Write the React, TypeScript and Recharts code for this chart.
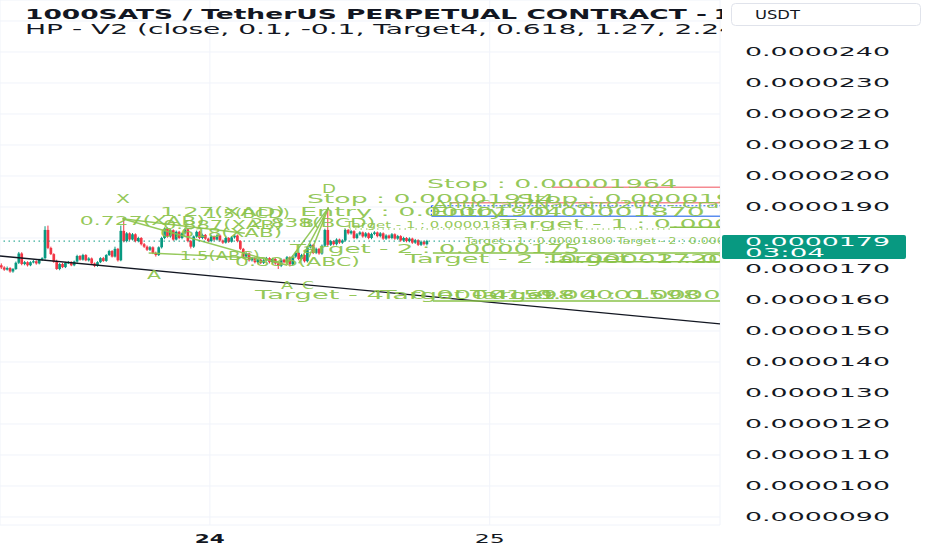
import {
  ComposedChart, Bar, XAxis, YAxis, CartesianGrid, ReferenceLine, ReferenceDot,
} from 'recharts'

// prices are in units of 1e-8 USDT (1790 = 0.0000179)
const opens = [
  1712, 1705, 1698, 1703, 1692, 1700, 1720, 1750, 1716, 1722,
  1712, 1722, 1725, 1718, 1730, 1735, 1826, 1768, 1748, 1723,
  1700, 1716, 1706, 1720, 1722, 1712, 1724, 1742, 1730, 1745,
  1728, 1734, 1718, 1710, 1722, 1735, 1726, 1745, 1758, 1740,
  1765, 1728, 1823, 1790, 1815, 1795, 1812, 1790, 1800, 1780,
  1772, 1762, 1770, 1752, 1745, 1770, 1800, 1830, 1805, 1825,
  1795, 1820, 1800, 1815, 1828, 1790, 1772, 1805, 1820, 1800,
  1810, 1798, 1790, 1805, 1795, 1808, 1792, 1785, 1800, 1788,
  1802, 1808, 1790, 1765, 1740, 1750, 1728, 1735, 1722, 1730,
  1720, 1728, 1735, 1722, 1732, 1718, 1710, 1730, 1722, 1738,
  1715, 1740, 1752, 1732, 1745, 1725, 1770, 1778, 1752, 1765,
  1750, 1775, 1826, 1778, 1790, 1780, 1795, 1785, 1792, 1826,
  1815, 1822, 1800, 1812, 1818, 1805, 1815, 1800, 1813, 1818,
  1806, 1815, 1798, 1808, 1800, 1812, 1798, 1806, 1792, 1800,
  1790, 1798, 1785, 1793, 1778, 1788, 1780,
]
const highs = [
  1718, 1709, 1708, 1706, 1703, 1724, 1755, 1754, 1726, 1725,
  1725, 1729, 1728, 1733, 1738, 1838, 1840, 1772, 1751, 1730,
  1719, 1720, 1723, 1726, 1725, 1727, 1746, 1745, 1749, 1748,
  1738, 1737, 1721, 1725, 1738, 1739, 1748, 1762, 1761, 1772,
  1768, 1840, 1866, 1819, 1818, 1816, 1815, 1804, 1803, 1784,
  1776, 1774, 1773, 1756, 1773, 1804, 1834, 1834, 1829, 1828,
  1824, 1823, 1818, 1832, 1831, 1794, 1808, 1824, 1823, 1814,
  1813, 1801, 1809, 1808, 1812, 1811, 1795, 1804, 1803, 1806,
  1812, 1811, 1793, 1768, 1754, 1753, 1739, 1738, 1734, 1733,
  1732, 1739, 1738, 1736, 1735, 1721, 1734, 1733, 1742, 1741,
  1744, 1756, 1755, 1749, 1748, 1774, 1782, 1781, 1769, 1768,
  1779, 1830, 1898, 1794, 1793, 1799, 1798, 1796, 1830, 1829,
  1826, 1825, 1816, 1822, 1821, 1819, 1818, 1817, 1822, 1821,
  1819, 1818, 1812, 1811, 1816, 1815, 1810, 1809, 1804, 1803,
  1802, 1801, 1797, 1796, 1792, 1791, 1794,
]
const lows = [
  1700, 1694, 1695, 1688, 1688, 1697, 1716, 1712, 1712, 1708,
  1709, 1718, 1714, 1715, 1726, 1730, 1764, 1745, 1720, 1697,
  1696, 1703, 1703, 1716, 1709, 1709, 1720, 1727, 1727, 1725,
  1724, 1715, 1706, 1707, 1719, 1723, 1723, 1742, 1737, 1737,
  1724, 1725, 1786, 1786, 1791, 1792, 1786, 1786, 1776, 1768,
  1758, 1758, 1748, 1740, 1742, 1766, 1796, 1801, 1801, 1791,
  1792, 1796, 1796, 1811, 1786, 1766, 1768, 1801, 1796, 1796,
  1794, 1786, 1786, 1791, 1792, 1788, 1781, 1782, 1784, 1785,
  1798, 1786, 1761, 1736, 1736, 1724, 1724, 1718, 1718, 1716,
  1716, 1724, 1718, 1718, 1714, 1700, 1706, 1718, 1718, 1708,
  1711, 1736, 1728, 1728, 1721, 1721, 1766, 1748, 1748, 1746,
  1746, 1771, 1774, 1774, 1776, 1776, 1781, 1781, 1788, 1811,
  1811, 1796, 1796, 1808, 1801, 1801, 1796, 1796, 1809, 1802,
  1802, 1794, 1794, 1796, 1796, 1794, 1794, 1788, 1788, 1786,
  1786, 1781, 1781, 1774, 1774, 1776, 1776,
]
const closes = [
  1705, 1698, 1703, 1692, 1700, 1720, 1750, 1716, 1722, 1712,
  1722, 1725, 1718, 1730, 1735, 1826, 1768, 1748, 1723, 1700,
  1716, 1706, 1720, 1722, 1712, 1724, 1742, 1730, 1745, 1728,
  1734, 1718, 1710, 1722, 1735, 1726, 1745, 1758, 1740, 1765,
  1728, 1823, 1790, 1815, 1795, 1812, 1790, 1800, 1780, 1772,
  1762, 1770, 1752, 1745, 1770, 1800, 1830, 1805, 1825, 1795,
  1820, 1800, 1815, 1828, 1790, 1772, 1805, 1820, 1800, 1810,
  1798, 1790, 1805, 1795, 1808, 1792, 1785, 1800, 1788, 1802,
  1808, 1790, 1765, 1740, 1750, 1728, 1735, 1722, 1730, 1720,
  1728, 1735, 1722, 1732, 1718, 1710, 1730, 1722, 1738, 1715,
  1740, 1752, 1732, 1745, 1725, 1770, 1778, 1752, 1765, 1750,
  1775, 1826, 1778, 1790, 1780, 1795, 1785, 1792, 1826, 1815,
  1822, 1800, 1812, 1818, 1805, 1815, 1800, 1813, 1818, 1806,
  1815, 1798, 1808, 1800, 1812, 1798, 1806, 1792, 1800, 1790,
  1798, 1785, 1793, 1778, 1788, 1780, 1790,
]

const priceTicks = [900, 1000, 1100, 1200, 1300, 1400, 1500, 1600, 1700, 1800, 1900, 2000, 2100, 2200, 2300, 2400, 2500]
const dayTicks = [72, 168]
const dayLabels = ['24', '25']
const lastPrice = 1790
const countdown = '03:04'

// harmonic pattern levels
const stopLevels = [1964, 1914]
const entryLevels = [1904, 1870]
const targetLevels = [1835, 1752, 1723, 1597]

const W = 932
const H = 550
const PLOT_W = 720
const PLOT_H = 525
const SLOTS = 247

const UP = '#089981'
const DOWN = '#F23645'
const HP = '#8BC34A'
const FONT = '"DejaVu Sans", sans-serif'

const candles = opens.map((o, i) => ({
  x: i + 0.5,
  range: [lows[i], highs[i]],
  open: o,
  close: closes[i],
}))

const fmt = (v: number) => (v / 1e8).toFixed(7)

// [text, x, price, fontSize, textLength]
const notes: [string, number, number, number, number][] = [
  ['Stop : 0.00001964', 146.5, 1961, 13, 250],
  ['Stop : 0.00001914', 105.3, 1913, 13, 248],
  ['Stop : 0.00001964', 177.4, 1913, 13, 250],
  ['AntiCrab/Navarro200 - Crab', 148.5, 1897, 10, 300],
  ['Entry : 0.00001904', 102.9, 1871, 13, 262],
  ['Entry : 0.00001870', 147.5, 1871, 13, 275],
  ['Target - 1 : 0.0000183', 118.4, 1832, 9, 165],
  ['Target - 1 : 0.0000183', 171.5, 1832, 13, 300],
  ['Target - 1 : 0.00001800   Target - 2 : 0.00001720', 159.5, 1781, 8, 300],
  ['Target - 2 : 0.0000175', 99.5, 1752, 13, 290],
  ['Target - 2 : 0.00001720', 138.9, 1719, 13, 320],
  ['Target - 2 : 0.00001700', 187, 1719, 13, 320],
  ['Target - 4 : 0.00001598', 87.5, 1603, 13, 320],
  ['Target - 4 : 0.00001598', 130.4, 1603, 13, 320],
  ['Target - 4 : 0.00001598', 161.2, 1603, 13, 320],
  ['X', 39.8, 1913, 12, 14],
  ['A', 50.4, 1668, 12, 14],
  ['A', 96.4, 1635, 11, 12],
  ['C', 103.6, 1635, 11, 12],
  ['D', 110.5, 1945, 12, 14],
  ['B', 103.6, 1835, 11, 12],
  ['0.727(XAB)', 27.4, 1842, 12, 125],
  ['1.27(XAD)', 54.9, 1871, 12, 125],
  ['1.5(BCD)', 70.3, 1864, 12, 85],
  ['0.887(XAB)', 55.9, 1829, 12, 120],
  ['0.618(XAB)', 54.9, 1803, 12, 122],
  ['2.838(BCD)', 85.8, 1835, 12, 125],
  ['1.5(ABC)', 61.7, 1729, 12, 80],
  ['0.886(ABC)', 80.6, 1710, 12, 125],
]

// pattern legs [x1, p1, x2, p2]
const legs: [number, number, number, number][] = [
  [42, 1862, 98.5, 1712],
  [42, 1862, 84, 1815],
  [51, 1752, 88, 1735],
  [112.7, 1898, 98.5, 1718],
  [112.7, 1898, 102.5, 1718],
  [112.7, 1898, 106, 1738],
]

function Candle(props: any) {
  const { x, y, width, height, payload } = props
  const [low, high] = payload.range
  const top = Math.min(y, y + height)
  const h = Math.abs(height)
  const k = h / (high - low || 1)
  const cx = x + width / 2
  const color = payload.close >= payload.open ? UP : DOWN
  const bTop = top + (high - Math.max(payload.open, payload.close)) * k
  const bH = Math.max(1.2, Math.abs(payload.close - payload.open) * k)
  return (
    <g>
      <line x1={cx} x2={cx} y1={top} y2={top + h} stroke={color} strokeWidth={1} />
      <rect x={cx - 1.35} y={bTop} width={2.7} height={bH} fill={color} />
    </g>
  )
}

function PriceTick({ x, y, payload }: any) {
  // the last-price badge covers this level
  if (payload.value === 1800) return null
  return (
    <text x={x + 17} y={y + 4.5} fontSize={11.5} fill="#131722" fontFamily={FONT}
      textLength={145} lengthAdjust="spacingAndGlyphs">
      {fmt(payload.value)}
    </text>
  )
}

function DayTick({ x, y, index }: any) {
  return (
    <text x={x} y={y + 10} textAnchor="middle" fontSize={12.5} fill="#131722"
      fontWeight={index === 0 ? 700 : 400} fontFamily={FONT}
      textLength={30} lengthAdjust="spacingAndGlyphs">
      {dayLabels[index]}
    </text>
  )
}

function LastPriceLabel({ viewBox }: any) {
  const left = viewBox.x + viewBox.width + 2
  const cy = viewBox.y
  return (
    <g>
      <rect x={left} y={cy - 6} width={184} height={24} rx={2} fill={UP} />
      <text x={left + 23} y={cy + 4.5} fontSize={11.5} fill="#fff" fontFamily={FONT}
        textLength={145} lengthAdjust="spacingAndGlyphs">{fmt(lastPrice)}</text>
      <text x={left + 23} y={cy + 16} fontSize={11.5} fill="#fff" fontFamily={FONT}
        textLength={80} lengthAdjust="spacingAndGlyphs">{countdown}</text>
    </g>
  )
}

function noteShape(text: string, size: number, len: number) {
  return (p: any) => (
    <text x={p.cx} y={p.cy} fontSize={size} fill={HP} fillOpacity={0.92} fontFamily={FONT}
      textLength={len} lengthAdjust="spacingAndGlyphs" clipPath="url(#hp-clip)">
      {text}
    </text>
  )
}

export default function App() {
  const right = SLOTS
  return (
    <div style={{ position: 'absolute', left: 0, top: 0, width: W, height: H, background: '#fff', overflow: 'hidden' }}>
      <ComposedChart width={W} height={H} data={candles} margin={{ top: 0, right: 0, bottom: 0, left: 0 }}>
        <defs>
          <clipPath id="hp-clip">
            <rect x={0} y={0} width={PLOT_W} height={PLOT_H} />
          </clipPath>
        </defs>
        <CartesianGrid stroke="#f0f3fa" strokeWidth={1} />
        <XAxis type="number" dataKey="x" domain={[0, SLOTS]} ticks={dayTicks} allowDataOverflow
          height={H - PLOT_H} axisLine={false} tickLine={false} interval={0} tick={<DayTick />} />
        <YAxis orientation="right" type="number" domain={[874.19, 2567.74]} ticks={priceTicks}
          allowDataOverflow width={W - PLOT_W} axisLine={false} tickLine={false} interval={0}
          tick={<PriceTick />} />

        <ReferenceLine segment={[{ x: 0, y: 1742 }, { x: right, y: 1523 }]} stroke="#131722" strokeWidth={1.3} ifOverflow="visible" />

        <Bar dataKey="range" barSize={3} shape={<Candle />} isAnimationActive={false} />

        {legs.map((l, i) => (
          <ReferenceLine key={'leg' + i} segment={[{ x: l[0], y: l[1] }, { x: l[2], y: l[3] }]}
            stroke={HP} strokeWidth={1.5} strokeOpacity={0.9} ifOverflow="visible" />
        ))}

        <ReferenceLine segment={[{ x: 189.4, y: stopLevels[0] }, { x: right, y: stopLevels[0] }]} stroke="#F58A91" strokeWidth={1.5} />
        <ReferenceLine segment={[{ x: 154.4, y: stopLevels[1] }, { x: right, y: stopLevels[1] }]} stroke="#F58A91" strokeWidth={1.5} />
        <ReferenceLine segment={[{ x: 148, y: entryLevels[0] }, { x: right, y: entryLevels[0] }]} stroke="#2962FF" strokeWidth={1.2} strokeDasharray="2 2" />
        <ReferenceLine segment={[{ x: 148, y: entryLevels[1] }, { x: right, y: entryLevels[1] }]} stroke="#5B8DEF" strokeWidth={1.5} />
        <ReferenceLine segment={[{ x: 148, y: entryLevels[0] }, { x: 148, y: entryLevels[1] }]} stroke="#2962FF" strokeWidth={1.2} strokeDasharray="2 2" />
        <ReferenceLine segment={[{ x: 209.3, y: entryLevels[0] }, { x: 209.3, y: entryLevels[1] }]} stroke="#2962FF" strokeWidth={1.2} strokeDasharray="2 2" />

        <ReferenceLine segment={[{ x: 118, y: 1829 }, { x: 229.8, y: 1829 }]} stroke={HP} strokeWidth={1.2} strokeDasharray="1.5 4" />
        <ReferenceLine segment={[{ x: 229.8, y: targetLevels[0] }, { x: right, y: targetLevels[0] }]} stroke={HP} strokeWidth={1.5} />
        <ReferenceLine segment={[{ x: 148.5, y: targetLevels[1] }, { x: right, y: targetLevels[1] }]} stroke={HP} strokeWidth={1.5} />
        <ReferenceLine segment={[{ x: 188.7, y: targetLevels[2] }, { x: right, y: targetLevels[2] }]} stroke={HP} strokeWidth={1.5} />
        <ReferenceLine segment={[{ x: 148.5, y: targetLevels[3] }, { x: right, y: targetLevels[3] }]} stroke={HP} strokeWidth={1.5} />

        <ReferenceLine y={lastPrice} stroke={UP} strokeWidth={1} strokeDasharray="1.5 3.5" label={<LastPriceLabel />} />

        {notes.map((n, i) => (
          <ReferenceDot key={'n' + i} x={n[1]} y={n[2]} r={0} ifOverflow="visible"
            shape={noteShape(n[0], n[3], n[4])} />
        ))}
      </ComposedChart>

      <svg width={W} height={H} style={{ position: 'absolute', left: 0, top: 0, pointerEvents: 'none' }}>
        <defs>
          <clipPath id="title-clip">
            <rect x={0} y={0} width={722} height={45} />
          </clipPath>
        </defs>
        <g clipPath="url(#title-clip)" fontFamily={FONT} fill="#131722">
          <text x={25} y={19} fontSize={14} fontWeight={700} textLength={682} lengthAdjust="spacingAndGlyphs">
            1000SATS / TetherUS PERPETUAL CONTRACT -
          </text>
          <text x={714} y={19} fontSize={14} fontWeight={700} textLength={30} lengthAdjust="spacingAndGlyphs">15</text>
          <text x={25} y={34} fontSize={14} textLength={723} lengthAdjust="spacingAndGlyphs">
            HP - V2 (close, 0.1, -0.1, Target4, 0.618, 1.27, 2.24)
          </text>
        </g>
        <rect x={731.5} y={3.5} width={189} height={22} rx={4} fill="#fff" stroke="#e0e3eb" />
        <text x={755} y={19} fontSize={12.5} fill="#131722" fontFamily={FONT}
          textLength={45} lengthAdjust="spacingAndGlyphs">USDT</text>
      </svg>
    </div>
  )
}
